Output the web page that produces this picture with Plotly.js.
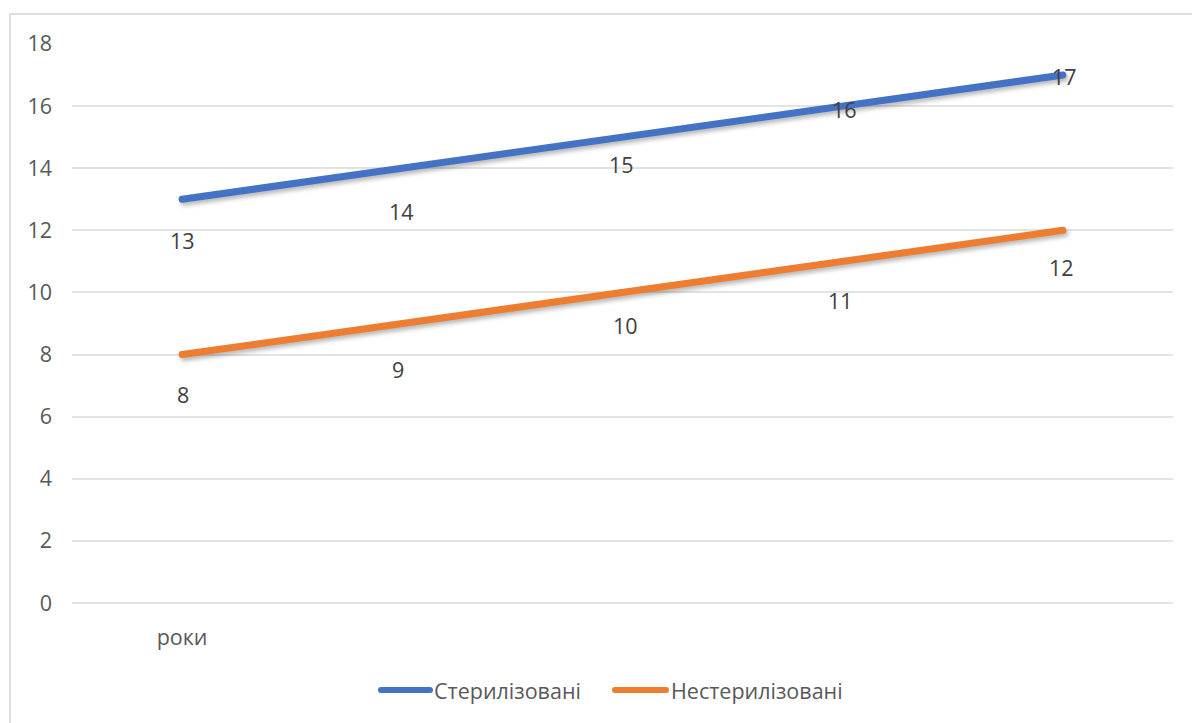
<!DOCTYPE html>
<html>
<head>
<meta charset="utf-8">
<script src="https://cdn.plot.ly/plotly-3.0.1.min.js"></script>
<style>
  html, body { margin: 0; padding: 0; background: #ffffff; }
  #wrap { position: relative; width: 1192px; height: 723px; overflow: hidden; }
  #chart { position: absolute; left: 0; top: 0; width: 1192px; height: 723px; }
  #frame {
    position: absolute; left: 9px; top: 13px; width: 1300px; height: 800px;
    border-left: 2px solid #dedede; border-top: 2px solid #dedede;
    pointer-events: none;
  }
  /* rounded ends and a soft drop shadow on the series lines */
  #chart .scatterlayer path.js-line {
    stroke-linecap: round;
    filter: drop-shadow(2px 3px 2px rgba(0,0,0,0.28));
  }
  #chart .shapelayer path { stroke-linecap: round; }
</style>
</head>
<body>
<div id="wrap">
  <div id="chart"></div>
  <div id="frame"></div>
</div>
<script>
// Category labels along the x axis (only the first one carries text)
const categories = ['роки', '', '', '', ''];

// Series names and values
const seriesNames = ['Стерилізовані', 'Нестерилізовані'];
const sterilized = [13, 14, 15, 16, 17];
const unsterilized = [8, 9, 10, 11, 12];

// Y axis ticks
const yTicks = [0, 2, 4, 6, 8, 10, 12, 14, 16, 18];

const colors = ['#4472C4', '#ED7D31'];
const fontFamily = 'Open Sans, Noto Sans, sans-serif';
const textSize = 21.5;

// Pixel offsets of each data label relative to its point
const labelShift = [
  [[0, -41], [-1, -43], [-1, -27], [2, -3], [2, -1]],
  [[1, -40], [-4, -46], [3, -33], [-2, -39], [-1, -37]]
];

// Hand-drawn legend geometry (paper coordinates)
const plotL = 72, plotW = 1101, plotB = 604, plotH = 561;
const px = v => (v - plotL) / plotW;
const py = v => (plotB - v) / plotH;
const legendItems = [
  { x0: 381, x1: 430, tx: 432 },
  { x0: 615, x1: 666, tx: 669 }
];
const legendY = 690;

const xIdx = categories.map((_, i) => i);
const allSeries = [sterilized, unsterilized];

const traces = allSeries.map((vals, s) => ({
  type: 'scatter',
  mode: 'lines',
  x: xIdx,
  y: vals,
  name: seriesNames[s],
  line: { color: colors[s], width: 7, shape: 'linear' },
  hoverinfo: 'skip',
  showlegend: false
}));

const annotations = [];
allSeries.forEach((vals, s) => {
  vals.forEach((v, i) => {
    annotations.push({
      x: xIdx[i], y: v, xref: 'x', yref: 'y',
      text: String(v), showarrow: false,
      xshift: labelShift[s][i][0], yshift: labelShift[s][i][1],
      font: { family: fontFamily, size: textSize, color: '#404040' }
    });
  });
});

const shapes = [];
legendItems.forEach((it, s) => {
  shapes.push({
    type: 'line', xref: 'paper', yref: 'paper',
    x0: px(it.x0), x1: px(it.x1), y0: py(legendY), y1: py(legendY),
    line: { color: colors[s], width: 6 }
  });
  annotations.push({
    xref: 'paper', yref: 'paper', x: px(it.tx), y: py(legendY),
    xanchor: 'left', yanchor: 'middle', showarrow: false,
    text: seriesNames[s],
    font: { family: fontFamily, size: textSize, color: '#595959' }
  });
});

const layout = {
  width: 1192, height: 723,
  paper_bgcolor: 'rgba(0,0,0,0)',
  plot_bgcolor: 'rgba(0,0,0,0)',
  margin: { l: plotL, r: 1192 - plotL - plotW, t: 43, b: 723 - plotB },
  font: { family: fontFamily, size: textSize, color: '#595959' },
  xaxis: {
    range: [-0.5, categories.length - 0.5],
    tickmode: 'array',
    tickvals: xIdx,
    ticktext: categories,
    showgrid: false, zeroline: false, showline: false,
    ticks: '', ticklabelstandoff: 18,
    tickfont: { size: textSize, color: '#595959' },
    fixedrange: true
  },
  yaxis: {
    range: [-0.03, 18.03],
    tickmode: 'array',
    tickvals: yTicks,
    ticktext: yTicks.map(String),
    showgrid: true, gridcolor: '#e3e3e3', gridwidth: 2,
    zeroline: true, zerolinecolor: '#e3e3e3', zerolinewidth: 2,
    showline: false,
    ticks: '', ticklabelstandoff: 19,
    tickfont: { size: textSize, color: '#595959' },
    fixedrange: true
  },
  showlegend: false,
  shapes: shapes,
  annotations: annotations
};

Plotly.newPlot('chart', traces, layout, { displayModeBar: false, staticPlot: true });
</script>
</body>
</html>
